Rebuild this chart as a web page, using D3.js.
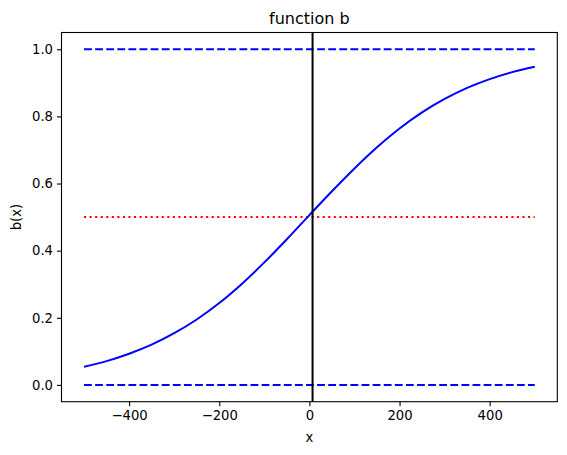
<!DOCTYPE html>
<html>
<head>
<meta charset="utf-8">
<script src="https://d3js.org/d3.v7.min.js"></script>
<style>
  body { margin: 0; background: #fff; }
  svg { display: block; font-family: "DejaVu Sans", sans-serif; }
  .tick text { font-family: "DejaVu Sans", sans-serif; font-size: 13.2px; fill: #000; }
</style>
</head>
<body>
<svg width="567" height="455"></svg>
<script>
// values
var xs = [-500, -450, -400, -350, -300, -250, -200, -150, -100, -50, 0, 50, 100, 150, 200, 250, 300, 350, 400, 450, 500];
var bx = [0.054, 0.071, 0.093, 0.120, 0.154, 0.195, 0.244, 0.301, 0.365, 0.434, 0.506, 0.577, 0.645, 0.708, 0.764, 0.812, 0.852, 0.885, 0.911, 0.932, 0.948];
var hlines = [0.0, 1.0];   // blue dashed
var midline = 0.5;         // red dotted
var vline = 7;             // black vertical
var xTicks = [-400, -200, 0, 200, 400];
var yTicks = [0.0, 0.2, 0.4, 0.6, 0.8, 1.0];

var svg = d3.select("svg"),
    mLeft = 61.5, mRight = 557.3, mTop = 32.5, mBottom = 401.7;

var x = d3.scaleLinear().domain([-550, 550]).range([mLeft, mRight]);
var y = d3.scaleLinear().domain([-0.05, 1.05]).range([mBottom, mTop]);

var data = xs.map(function(d, i) { return [d, bx[i]]; });

var plot = svg.append("g");

hlines.forEach(function(h) {
  plot.append("line")
      .attr("x1", x(xs[0])).attr("x2", x(xs[xs.length - 1]))
      .attr("y1", y(h)).attr("y2", y(h))
      .attr("stroke", "#0000ff")
      .attr("stroke-width", 2)
      .attr("stroke-dasharray", "7.8,3.3");
});

plot.append("line")
    .attr("x1", x(xs[0])).attr("x2", x(xs[xs.length - 1]))
    .attr("y1", y(midline)).attr("y2", y(midline))
    .attr("stroke", "#ff0000")
    .attr("stroke-width", 2)
    .attr("stroke-dasharray", "2.1,3.45");

plot.append("path")
    .datum(data)
    .attr("fill", "none")
    .attr("stroke", "#0000ff")
    .attr("stroke-width", 2)
    .attr("d", d3.line()
      .x(function(d) { return x(d[0]); })
      .y(function(d) { return y(d[1]); })
      .curve(d3.curveCatmullRom));

plot.append("line")
    .attr("x1", x(vline)).attr("x2", x(vline))
    .attr("y1", mTop).attr("y2", mBottom)
    .attr("stroke", "#000")
    .attr("stroke-width", 2);

// axes
svg.append("g")
    .attr("transform", "translate(0," + mBottom + ")")
    .call(d3.axisBottom(x).tickValues(xTicks).tickSize(4.5).tickPadding(4))
    .call(function(g) { g.select(".domain").remove(); });

svg.append("g")
    .attr("transform", "translate(" + mLeft + ",0)")
    .call(d3.axisLeft(y).tickValues(yTicks).tickFormat(d3.format(".1f")).tickSize(4.5).tickPadding(4))
    .call(function(g) { g.select(".domain").remove(); });

svg.selectAll(".tick line").attr("stroke", "#000").attr("stroke-width", 1.1);

svg.append("rect")
    .attr("x", mLeft).attr("y", mTop)
    .attr("width", mRight - mLeft).attr("height", mBottom - mTop)
    .attr("fill", "none")
    .attr("stroke", "#000")
    .attr("stroke-width", 1.1);

// labels
svg.append("text")
    .attr("x", (mLeft + mRight) / 2).attr("y", 24)
    .attr("text-anchor", "middle")
    .style("font-size", "16px")
    .text("function b");

svg.append("text")
    .attr("x", (mLeft + mRight) / 2).attr("y", 442)
    .attr("text-anchor", "middle")
    .style("font-size", "13.2px")
    .text("x");

svg.append("text")
    .attr("transform", "translate(21," + ((mTop + mBottom) / 2) + ") rotate(-90)")
    .attr("text-anchor", "middle")
    .style("font-size", "13.2px")
    .text("b(x)");
</script>
</body>
</html>
